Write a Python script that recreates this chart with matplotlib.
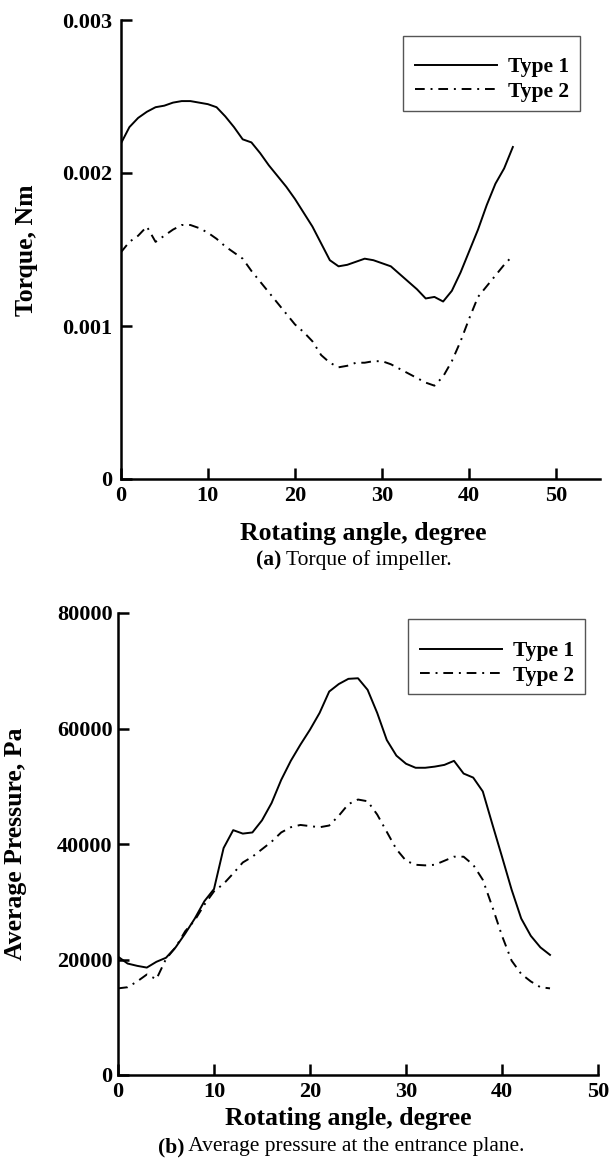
import numpy as np
import matplotlib
matplotlib.use('Agg')
import matplotlib.pyplot as plt
from matplotlib.patches import Rectangle

plt.rcParams['font.family'] = ['Liberation Serif', 'DejaVu Serif']

# rotating angle in degrees, one sample per degree
angle = np.arange(0, 46)

torque_type1 = [0.00219, 0.00230, 0.00236, 0.00240, 0.00243, 0.00244, 0.00246, 0.00247,
                0.00247, 0.00246, 0.00245, 0.00243, 0.00237, 0.00230, 0.00222, 0.00220,
                0.00213, 0.00205, 0.00198, 0.00191, 0.00183, 0.00174, 0.00165, 0.00154,
                0.00143, 0.00139, 0.00140, 0.00142, 0.00144, 0.00143, 0.00141, 0.00139,
                0.00134, 0.00129, 0.00124, 0.00118, 0.00119, 0.00116, 0.00123, 0.00135,
                0.00149, 0.00163, 0.00179, 0.00193, 0.00203, 0.00217]
torque_type2 = [0.00148, 0.00155, 0.00159, 0.00165, 0.00155, 0.00159, 0.00163, 0.00166,
                0.00166, 0.00164, 0.00161, 0.00157, 0.00152, 0.00148, 0.00144, 0.00136,
                0.00129, 0.00122, 0.00115, 0.00108, 0.00101, 0.00096, 0.00090, 0.00081,
                0.00076, 0.00073, 0.00074, 0.00076, 0.00076, 0.00077, 0.00077, 0.00075,
                0.00072, 0.00069, 0.00066, 0.00063, 0.00061, 0.00067, 0.00077, 0.00090,
                0.00105, 0.00119, 0.00126, 0.00133, 0.00140, 0.00146]

pressure_type1 = [20500, 19300, 18900, 18600, 19600, 20300, 22100, 24500, 27100, 30100,
                  32200, 39300, 42400, 41800, 42000, 44100, 47100, 51100, 54400, 57200,
                  59800, 62700, 66400, 67700, 68600, 68700, 66700, 62700, 58000, 55300,
                  53900, 53200, 53200, 53400, 53700, 54400, 52200, 51500, 49100, 43400,
                  37800, 32100, 27100, 24100, 22100, 20800]
pressure_type2 = [15000, 15200, 16200, 17400, 16600, 20100, 22100, 24900, 26800, 29500,
                  31800, 33100, 34900, 36800, 37800, 39100, 40400, 42000, 42900, 43300,
                  43100, 42900, 43200, 44900, 46900, 47700, 47400, 45100, 42100, 39100,
                  37100, 36400, 36300, 36400, 37100, 37800, 37800, 36400, 33800, 29100,
                  24100, 19800, 17500, 16200, 15200, 15000]

series_labels = ['Type 1', 'Type 2']
torque_ticks = [0, 0.001, 0.002, 0.003]
torque_ticklabels = ['0', '0.001', '0.002', '0.003']
pressure_ticks = [0, 20000, 40000, 60000, 80000]
angle_ticks = [0, 10, 20, 30, 40, 50]

W, H = 613, 1161
fig = plt.figure(figsize=(W / 100, H / 100), dpi=100)


def px_axes(left, top, right, bottom):
    ax = fig.add_axes([left / W, 1 - bottom / H, (right - left) / W, (bottom - top) / H])
    ax.px_box = (left, top, right, bottom)
    return ax


def to_axes(ax, x, y):
    left, top, right, bottom = ax.px_box
    return (x - left) / (right - left), (bottom - y) / (bottom - top)


dashdot = (0, (5, 3, 1, 3))


def style_axes(ax, ypad):
    for side in ['top', 'right']:
        ax.spines[side].set_visible(False)
    for side in ['left', 'bottom']:
        ax.spines[side].set_linewidth(1.8)
    ax.tick_params(direction='in', length=8, width=1.8, labelsize=16)
    ax.tick_params(axis='x', pad=5)
    ax.tick_params(axis='y', pad=ypad)
    for lab in ax.get_xticklabels() + ax.get_yticklabels():
        lab.set_fontweight('bold')


def add_legend(ax, box, content_top_right):
    # entries without their own frame, then a plain grey box around them
    leg = ax.legend(loc='upper right', bbox_to_anchor=to_axes(ax, *content_top_right),
                    frameon=False, handlelength=3.8, handletextpad=0.5,
                    labelspacing=0.22, borderpad=0, borderaxespad=0,
                    prop={'weight': 'bold', 'size': 15.5})
    x0, y0, x1, y1 = box
    ax0, ay1 = to_axes(ax, x0, y0)
    ax1_, ay0 = to_axes(ax, x1, y1)
    ax.add_patch(Rectangle((ax0, ay0), ax1_ - ax0, ay1 - ay0, transform=ax.transAxes,
                           fill=False, edgecolor='#555555', lw=1.0, clip_on=False))
    return leg


def caption(ax, x, y, tag, text):
    t = fig.text(x / W, 1 - y / H, tag, fontsize=15.5, fontweight='bold', va='center')
    ax.annotate(' ' + text, xy=(1, 0.5), xycoords=t, va='center', ha='left',
                fontsize=15.5, annotation_clip=False)


# (a) torque of impeller
ax1 = px_axes(120.7, 20, 600, 479)
ax1.plot(angle, torque_type1, color='black', lw=1.4, label=series_labels[0])
ax1.plot(angle, torque_type2, color='black', lw=1.4, linestyle=dashdot, label=series_labels[1])
ax1.set_xlim(0, 55)
ax1.set_ylim(0, 0.003)
ax1.set_xticks(angle_ticks)
ax1.set_yticks(torque_ticks)
ax1.set_yticklabels(torque_ticklabels)
style_axes(ax1, 6)
add_legend(ax1, (403, 36, 580, 111), (569, 57))

# (b) average pressure at the entrance plane
ax2 = px_axes(118, 613, 598, 1075)
ax2.plot(angle, pressure_type1, color='black', lw=1.4, label=series_labels[0])
ax2.plot(angle, pressure_type2, color='black', lw=1.4, linestyle=dashdot, label=series_labels[1])
ax2.set_xlim(0, 50)
ax2.set_ylim(0, 80000)
ax2.set_xticks(angle_ticks)
ax2.set_yticks(pressure_ticks)
style_axes(ax2, 4)
add_legend(ax2, (408, 619, 585, 694), (574, 641))

# axis titles
fig.text(363 / W, 1 - 533 / H, 'Rotating angle, degree', fontsize=18.5, fontweight='bold',
         ha='center', va='center')
fig.text(348 / W, 1 - 1118 / H, 'Rotating angle, degree', fontsize=18.5, fontweight='bold',
         ha='center', va='center')
fig.text(27 / W, 1 - 250 / H, 'Torque, Nm', fontsize=18.5, fontweight='bold',
         ha='center', va='center', rotation=90)
fig.text(16 / W, 1 - 844 / H, 'Average Pressure, Pa', fontsize=18.5, fontweight='bold',
         ha='center', va='center', rotation=90)

caption(ax1, 256, 560, '(a)', 'Torque of impeller.')
caption(ax2, 158, 1147, '(b)', 'Average pressure at the entrance plane.')

fig.savefig('out.png', dpi=100)
